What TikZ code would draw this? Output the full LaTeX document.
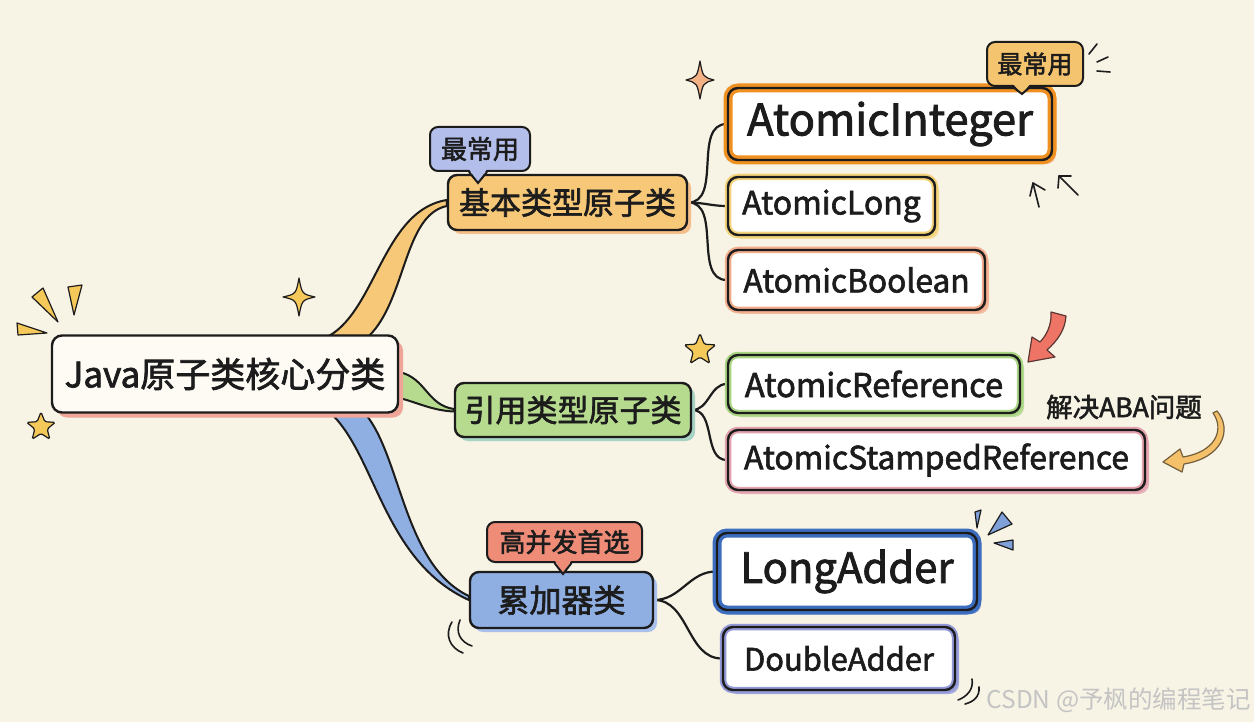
\documentclass[tikz,border=0pt]{standalone}
\usepackage{fontspec}
\setmainfont{Noto Sans CJK SC}[FakeBold=2]
\usetikzlibrary{shapes.geometric,shadows,calc}
\definecolor{bgc}{HTML}{F7F3E5}
\definecolor{ink}{HTML}{1C1C1C}
\definecolor{rootfill}{HTML}{FDFBF4}
\definecolor{rootsh}{HTML}{EFA699}
\definecolor{subor}{HTML}{F6C878}
\definecolor{subors}{HTML}{F3BE8A}
\definecolor{subgr}{HTML}{B6DB8F}
\definecolor{subgrs}{HTML}{A6D3C4}
\definecolor{subbl}{HTML}{8FAFE3}
\definecolor{subbls}{HTML}{A9C0EC}
\definecolor{bubbl}{HTML}{B3BFEA}
\definecolor{bubred}{HTML}{EE8C78}
\definecolor{bubor}{HTML}{F5C46E}
\definecolor{lfor}{HTML}{EF9020}
\definecolor{lforsh}{HTML}{F3B38C}
\definecolor{lfyl}{HTML}{F3D27A}
\definecolor{lfylsh}{HTML}{F6DC95}
\definecolor{lfsa}{HTML}{F2AD8D}
\definecolor{lfsash}{HTML}{F2BFA3}
\definecolor{lfgr}{HTML}{A9D582}
\definecolor{lfgrsh}{HTML}{BBDD9A}
\definecolor{lfpk}{HTML}{E2A2AE}
\definecolor{lfpksh}{HTML}{E8B3BD}
\definecolor{lfbl}{HTML}{3D6DBF}
\definecolor{lfblsh}{HTML}{6F94D6}
\definecolor{lfpu}{HTML}{9399D7}
\definecolor{lfpush}{HTML}{A5ABE0}
\definecolor{starc}{HTML}{F5C85A}
\definecolor{sparkor}{HTML}{F4B184}
\definecolor{trib}{HTML}{7FA0D8}
\definecolor{arrred}{HTML}{EE7466}
\definecolor{arror}{HTML}{F5C06A}
\definecolor{wmc}{HTML}{C4C4C4}
\newcommand\myfs[1]{\fontsize{#1}{#1}\selectfont}
\pgfdeclarelayer{back}
\pgfdeclarelayer{bg}
\pgfsetlayers{back,bg,main}
\tikzset{
 inkline/.style={draw=ink, line width=2pt},
 rootbox/.style={rounded corners=10pt, fill=rootfill, draw=ink, line width=2.4pt, inner sep=0pt, text=ink,
   drop shadow={shadow xshift=5pt, shadow yshift=-5pt, fill=rootsh, opacity=1}},
 subbox/.style 2 args={rounded corners=9pt, fill=#1, draw=ink, line width=2.4pt, inner sep=0pt, text=ink,
   drop shadow={shadow xshift=4pt, shadow yshift=-4pt, fill=#2, opacity=1}},
 leafbox/.style n args={3}{rounded corners=10pt, fill=white, draw=ink, line width=2.4pt, inner sep=0pt, text=ink,
   drop shadow={shadow xshift=4pt, shadow yshift=-4pt, fill=#2, opacity=1},
   postaction={draw=#1, line width=#3}, postaction={draw=ink, line width=2.4pt}},
 bubble/.style={rounded corners=8pt, fill=#1, draw=ink, line width=2pt, inner sep=0pt, text=ink},
 branch/.style={fill=#1, draw=ink, line width=2pt, line join=round},
 conn/.style={draw=ink, line width=2.2pt},
 deco/.style={draw=ink, line width=1.6pt, line cap=round, line join=round},
 fdeco/.style={fill=#1, draw=ink, line width=1.2pt, line join=round},
 starnode/.style={star, star points=5, star point ratio=2.3, minimum size=#1, inner sep=0pt,
   fill=starc, draw=ink, line width=1.2pt, rounded corners=1.5pt},
}
\begin{document}
\begin{tikzpicture}[x=1pt,y=-1pt]
\begin{pgfonlayer}{back}
\fill[bgc] (0,0) rectangle (1254,722);
\end{pgfonlayer}
\useasboundingbox (0,0) rectangle (1254,722);

% ---------- main nodes ----------
\node[rootbox, minimum width=346pt, minimum height=77pt, font=\myfs{35}] (root) at (225,374) {Java原子类核心分类};
\node[subbox={subor}{subors}, minimum width=239pt, minimum height=55pt, font=\myfs{31}] (basic) at (567.5,202.5) {基本类型原子类};
\node[subbox={subgr}{subgrs}, minimum width=236pt, minimum height=54pt, font=\myfs{31}] (ref) at (573,410) {引用类型原子类};
\node[subbox={subbl}{subbls}, minimum width=183pt, minimum height=56pt, font=\myfs{32}] (adder) at (561.5,600) {累加器类};

% ---------- leaves ----------
\node[leafbox={lfor}{lforsh}{9pt}, minimum width=324pt, minimum height=72pt, font=\myfs{43.5}] (ai) at (890,124) {AtomicInteger};
\node[leafbox={lfyl}{lfylsh}{6.5pt}, minimum width=207pt, minimum height=58pt, font=\myfs{32}] (al) at (831.5,206) {AtomicLong};
\node[leafbox={lfsa}{lfsash}{6.5pt}, minimum width=257pt, minimum height=60pt, font=\myfs{31.7}] (ab) at (856.5,280) {AtomicBoolean};
\node[leafbox={lfgr}{lfgrsh}{6.5pt}, minimum width=292pt, minimum height=58pt, font=\myfs{32.7}] (ar) at (874,384) {AtomicReference};
\node[leafbox={lfpk}{lfpksh}{6.5pt}, minimum width=417pt, minimum height=60pt, font=\myfs{31.8}] (as) at (936.5,460) {AtomicStampedReference};
\node[leafbox={lfbl}{lfblsh}{9pt}, minimum width=260pt, minimum height=77pt, font=\myfs{41.8}] (la) at (847,571.5) {LongAdder};
\node[leafbox={lfpu}{lfpush}{6.5pt}, minimum width=232pt, minimum height=63pt, font=\myfs{30.9}] (da) at (839,658.5) {DoubleAdder};

% ---------- branches and connectors ----------
\begin{pgfonlayer}{bg}
\filldraw[branch=subor] ($(root.north east)+(-70,1.5)$) .. controls +(47,-27) and +(-63,10) .. ($(basic.west)+(0,-2.5)$)
  -- ($(basic.west)+(0,3.5)$) .. controls +(-43,9) and +(37,-37) .. ($(root.north east)+(-30,1.5)$) -- cycle;
\filldraw[branch=subgr] ($(root.east)+(0,-2)$) .. controls +(27,6) and +(-27,-4) .. ($(ref.west)+(0,-1)$)
  -- ($(ref.west)+(0,1.5)$) .. controls +(-22,-1) and +(17,4) .. ($(root.east)+(0,24)$) -- cycle;
\filldraw[branch=subbl] ($(root.south east)+(-68,0)$) .. controls +(45,43) and +(-85,-39) .. (adder.west)
  -- ($(adder.west)+(0,-4)$) .. controls +(-65,-31) and +(36,43) .. ($(root.south east)+(-34,0)$) -- cycle;
\draw[conn] (basic.east) to[out=0,in=180] (ai.west);
\draw[conn] (basic.east) to[out=0,in=180] (al.west);
\draw[conn] (basic.east) to[out=0,in=180] (ab.west);
\draw[conn] (ref.east) to[out=0,in=180] (ar.west);
\draw[conn] (ref.east) to[out=0,in=180] (as.west);
\draw[conn] (adder.east) to[out=0,in=180] (la.west);
\draw[conn] (adder.east) to[out=0,in=180] (da.west);
\end{pgfonlayer}

% ---------- bubbles ----------
\node[bubble=bubbl, minimum width=100pt, minimum height=44pt, font=\myfs{26}] (b1) at (480,149) {最常用};
\coordinate (b1tip) at ($(b1.south)+(-2,11)$);
\fill[bubbl] ($(b1.south)+(-11,-3)$) -- (b1tip) -- ($(b1.south)+(7,-3)$) -- cycle;
\draw[inkline] ($(b1.south)+(-11,0)$) -- (b1tip) -- ($(b1.south)+(7,0)$);

\node[bubble=bubred, minimum width=155pt, minimum height=40pt, font=\myfs{26}] (b2) at (564.5,542) {高并发首选};
\coordinate (b2tip) at ($(b2.south)+(-1.5,11)$);
\fill[bubred] ($(b2.south)+(-10,-3)$) -- (b2tip) -- ($(b2.south)+(7,-3)$) -- cycle;
\draw[inkline] ($(b2.south)+(-10,0)$) -- (b2tip) -- ($(b2.south)+(7,0)$);

\node[bubble=bubor, minimum width=96pt, minimum height=44pt, font=\myfs{25}] (b3) at (1035,64) {最常用};
\coordinate (b3tip) at ($(b3.south)+(-13,7)$);
\fill[bubor] ($(b3.south)+(-22,-3)$) -- (b3tip) -- ($(b3.south)+(-5,-3)$) -- cycle;
\draw[inkline] ($(b3.south)+(-22,0)$) -- (b3tip) -- ($(b3.south)+(-5,0)$);

% ---------- free texts ----------
\node[font=\myfs{26.5}, text=ink, inner sep=0pt] (aba) at (1124,407) {解决ABA问题};
\node[font=\myfs{24.5}, text=wmc, anchor=east, inner sep=0pt] (wm) at (1251,700) {\addfontfeature{FakeBold=0}CSDN @予枫的编程笔记};

% ---------- decorations ----------
\filldraw[fdeco=starc] (299,278) .. controls (302,294) .. (315,297) .. controls (302,300) .. (299,316) .. controls (296,300) .. (283,297) .. controls (296,294) .. cycle;
\filldraw[fdeco=sparkor] (700,61) .. controls (703,77) .. (714,80) .. controls (703,83) .. (700,99) .. controls (697,83) .. (686,80) .. controls (697,77) .. cycle;
\node[starnode=30pt] (st1) at (41,427) {};
\node[starnode=33pt] (st2) at (700,350) {};
\filldraw[fdeco=starc] (32,297) -- (43,288) -- (58,322) -- cycle;
\filldraw[fdeco=starc] (68,287) -- (82,285) -- (74,315) -- cycle;
\filldraw[fdeco=starc] (17,323) -- (18,335) -- (47,333) -- cycle;
\draw[deco] (1089,54) -- (1097,44);
\draw[deco] (1097,62) -- (1108,57);
\draw[deco] (1097,71) -- (1110,72);
\draw[deco] (1039,207) -- (1033,183);
\draw[deco] (1030,196) -- (1033,183) -- (1045,190);
\draw[deco] (1078,195) -- (1059,176);
\draw[deco] (1058,188) -- (1059,176) -- (1071,176);
\filldraw[fdeco=trib] (975,512) -- (981,510) -- (977,528) -- cycle;
\filldraw[fdeco=trib] (1002,512) -- (1012,524) -- (988,535) -- cycle;
\filldraw[fdeco=trib] (994,543) -- (1013,540) -- (1013,550) -- cycle;
\draw[deco] (452,622) .. controls (444,635) and (450,648) .. (463,653);
\draw[deco] (460,620) .. controls (455,632) and (460,642) .. (472,646);
\draw[deco] (972,679) .. controls (974,690) and (966,697) .. (958,700);
\draw[deco] (979,687) .. controls (980,697) and (973,702) .. (965,704);
\filldraw[fill=arrred, draw=ink!70!arrred, line width=1.2pt, line join=round]
  (1051,312) .. controls (1052,325) and (1046,336) .. (1040,342) -- (1032,337) -- (1028,362) -- (1055,357)
  -- (1047,350) .. controls (1058,340) and (1065,330) .. (1066,316) -- cycle;
\filldraw[fill=arror, draw=ink!60!arror, line width=1.2pt, line join=round]
  (1213,413) .. controls (1225,430) and (1215,452) .. (1183,457) -- (1180,449) -- (1163,462) -- (1182,472)
  -- (1184,464) .. controls (1222,458) and (1233,430) .. (1217,411) -- cycle;
\end{tikzpicture}
\end{document}
